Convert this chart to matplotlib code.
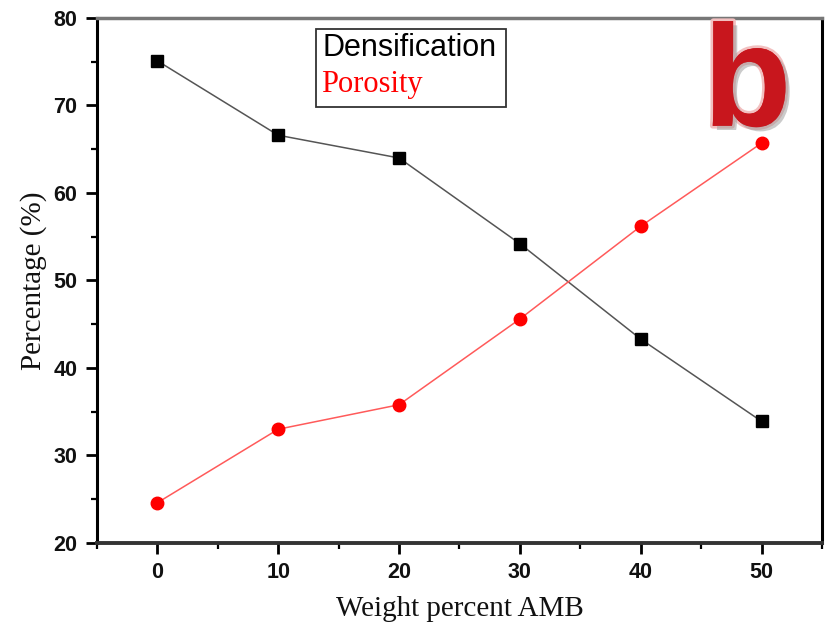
import matplotlib
matplotlib.use("Agg")
import matplotlib.pyplot as plt
import matplotlib.patheffects as pe
from matplotlib.ticker import MultipleLocator
from matplotlib.patches import Rectangle

weight = [0, 10, 20, 30, 40, 50]
densification = [75.1, 66.6, 64.0, 54.2, 43.3, 33.9]
porosity = [24.6, 33.0, 35.8, 45.6, 56.2, 65.7]

fig = plt.figure(figsize=(8.33, 6.31), dpi=100)
ax = fig.add_axes([0.1164, 0.1395, 0.8704, 0.832])

ax.plot(weight, densification, color="#555555", lw=1.1, marker="s", ms=9,
        mfc="black", mec="black")
ax.plot(weight, porosity, color="#ff5a5a", lw=1.1, marker="o", ms=9,
        mfc="red", mec="red")

ax.set_xlim(-5, 55)
ax.set_ylim(20, 80)
ax.xaxis.set_major_locator(MultipleLocator(10))
ax.xaxis.set_minor_locator(MultipleLocator(5))
ax.yaxis.set_major_locator(MultipleLocator(10))
ax.yaxis.set_minor_locator(MultipleLocator(5))
ax.tick_params(which="major", direction="out", length=8, width=2.0,
               labelsize=15.5, pad=6)
ax.tick_params(which="minor", direction="out", length=4.5, width=1.6)
for lab in ax.get_xticklabels() + ax.get_yticklabels():
    lab.set_fontweight("bold")
    lab.set_family("Liberation Sans")
    lab.set_color("#111111")
for s in ["left", "bottom", "right"]:
    ax.spines[s].set_linewidth(2.2)
    ax.spines[s].set_color("black")
ax.spines["top"].set_linewidth(2.5)
ax.spines["top"].set_color("#777777")
ax.spines["bottom"].set_color("#333333")
ax.spines["bottom"].set_linewidth(2.8)

ax.set_xlabel("Weight percent AMB", family="Liberation Serif", fontsize=21,
              labelpad=9, color="#111111")
ax.set_ylabel("Percentage (%)", family="Liberation Serif", fontsize=21,
              labelpad=5, color="#111111")

# legend-like text box
ax.text(0.311, 0.943, "Densification", transform=ax.transAxes, fontsize=22,
        family="Liberation Sans", color="black", va="center")
ax.text(0.309, 0.873, "Porosity", transform=ax.transAxes, fontsize=22,
        family="Liberation Serif", color="red", va="center")
ax.add_patch(Rectangle((0.302, 0.8305), 0.262, 0.149, transform=ax.transAxes,
                       fill=False, lw=1.3, ec="#333333"))

ax.text(0.897, 0.866, "b", transform=ax.transAxes, fontsize=104, fontweight="bold",
        family="Liberation Sans", color="#c8161d", ha="center", va="center",
        path_effects=[pe.withStroke(linewidth=4, foreground="#f2c0c0"),
                      pe.SimplePatchShadow(offset=(3, -3), shadow_rgbFace="#999999", alpha=0.5),
                      pe.Normal()])

fig.savefig("out.png", dpi=100)
